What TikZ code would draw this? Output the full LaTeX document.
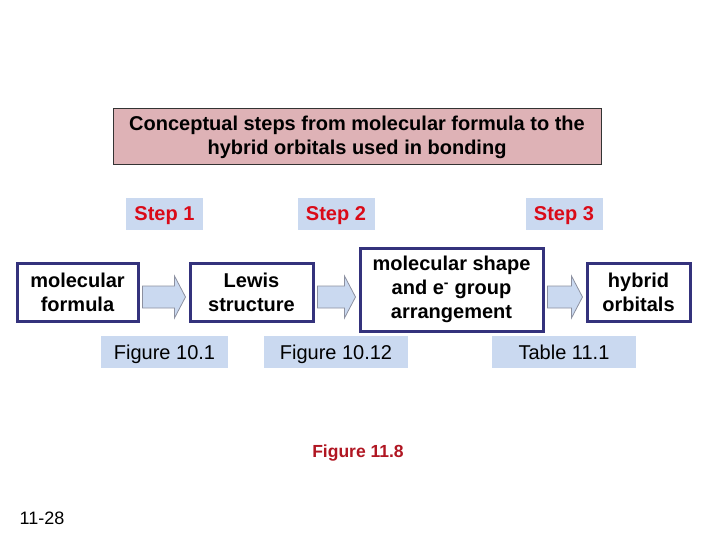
\documentclass[tikz,border=0pt]{standalone}
\usepackage{fontspec}
\setmainfont{Liberation Sans}
\usepackage{tikz}
\usetikzlibrary{calc}
\definecolor{titlepink}{RGB}{222,178,182}
\definecolor{stepblue}{RGB}{202,217,240}
\definecolor{stepred}{RGB}{218,10,24}
\definecolor{boxnavy}{RGB}{52,50,124}
\definecolor{arrgray}{RGB}{140,144,160}
\definecolor{figred}{RGB}{176,22,34}

\begin{document}
\begin{tikzpicture}[
  x=1pt,y=-1pt,
  title/.style={draw=black!80,fill=titlepink,line width=1pt,minimum width=488pt,minimum height=56pt,
                font=\fontsize{20}{24}\selectfont\bfseries,align=center,inner sep=0pt},
  stepbox/.style={fill=stepblue,minimum width=77pt,minimum height=32pt,text depth=0pt,
                  font=\fontsize{20}{24}\selectfont\bfseries,text=stepred,inner sep=0pt},
  box/.style={draw=boxnavy,fill=white,line width=3pt,minimum height=58pt,
              font=\fontsize{20}{24}\selectfont\bfseries,align=center,inner sep=0pt},
  figlbl/.style={fill=stepblue,minimum height=32pt,text depth=0pt,
                 font=\fontsize{20}{24}\selectfont,inner sep=0pt},
  blockarr/.style={draw=arrgray,fill=stepblue,line width=0.8pt,line join=miter}
]
\useasboundingbox (0,0) rectangle (720,540);

\node[title] (ttl) at (357,137) {Conceptual steps from molecular formula to the\\hybrid orbitals used in bonding};

\node[stepbox] (s1) at (164.5,214) {Step 1};
\node[stepbox] (s2) at (336,214) {Step 2};
\node[stepbox] (s3) at (564,214) {Step 3};

\node[box,minimum width=121pt] (mf) at (77.5,292) {molecular\\formula};
\node[box,minimum width=123pt] (lw) at (251.5,292) {Lewis\\structure};
\node[box,minimum width=183pt,minimum height=83pt] (ms) at (451.5,289.5) {molecular shape\\and e\textsuperscript{-} group\\arrangement};
\node[box,minimum width=103pt] (ho) at (638.5,292) {hybrid\\orbitals};

% block arrows between the boxes
\coordinate (row) at (0,297);
\foreach \a/\b in {mf/lw,lw/ms,ms/ho}
  \draw[blockarr] ($(\a.east |- row)+(3,-11)$) -- ($(\b.west |- row)+(-14,-11)$) -- ($(\b.west |- row)+(-14,-21)$)
    -- ($(\b.west |- row)+(-3,0)$) -- ($(\b.west |- row)+(-14,21)$) -- ($(\b.west |- row)+(-14,11)$)
    -- ($(\a.east |- row)+(3,11)$) -- cycle;

\node[figlbl,minimum width=127pt] (f1) at (164.5,352) {Figure 10.1};
\node[figlbl,minimum width=144pt] (f2) at (336,352) {Figure 10.12};
\node[figlbl,minimum width=144pt] (f3) at (564,352) {Table 11.1};

\node[font=\fontsize{17.5}{21}\selectfont\bfseries,text=figred] (f4) at (358,453) {Figure 11.8};
\node[font=\fontsize{18}{22}\selectfont] (pg) at (42,518) {11-28};
\end{tikzpicture}
\end{document}
